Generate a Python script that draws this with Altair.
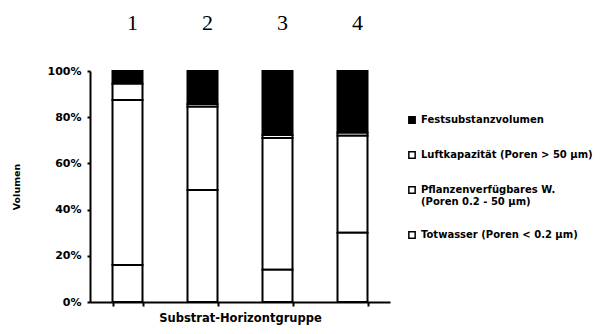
import altair as alt
import pandas as pd

groups = ["1", "2", "3", "4"]
components = [
    "Festsubstanzvolumen",
    "Luftkapazität (Poren > 50 µm)",
    "Pflanzenverfügbares W.\n(Poren 0.2 - 50 µm)",
    "Totwasser (Poren < 0.2 µm)",
]
stack_order = [3, 2, 1, 0]
fest = [5.5, 14.3, 27.7, 26.7]
luft = [7.0, 1.2, 1.3, 1.3]
pflanzen = [71.5, 36.0, 57.0, 42.0]
totwasser = [16.0, 48.5, 14.0, 30.0]
fills = ["black", "white", "white", "white"]

series = [fest, luft, pflanzen, totwasser]
rows = []
for comp, order, vals in zip(components, stack_order, series):
    for g, v in zip(groups, vals):
        rows.append({"Gruppe": g, "Komponente": comp, "Anteil": v, "ord": order})
df = pd.DataFrame(rows)

FONT = "DejaVu Sans"

xscale = alt.Scale(paddingInner=0.6, paddingOuter=0.3)

bars = alt.Chart(df).mark_bar(stroke="black", strokeWidth=2).encode(
    x=alt.X("Gruppe:N", scale=xscale, sort=groups,
            axis=alt.Axis(orient="bottom", labels=False, ticks=True, tickBand="extent",
                          tickSize=4, tickWidth=2, tickColor="black",
                          domainColor="black", domainWidth=2,
                          title="Substrat-Horizontgruppe", titleFont=FONT,
                          titleFontSize=11.5, titleFontWeight="bold", titlePadding=5,
                          titleColor="black")),
    y=alt.Y("Anteil:Q", stack="normalize",
            axis=alt.Axis(format="%", values=[0, 0.2, 0.4, 0.6, 0.8, 1.0], grid=False,
                          labelFont=FONT, labelFontSize=11, labelFontWeight="bold",
                          labelColor="black", tickSize=3, tickWidth=2, tickColor="black",
                          domainColor="black", domainWidth=2, labelPadding=6,
                          title="Volumen", titleFont=FONT, titleFontSize=9.5,
                          titleFontWeight="bold", titlePadding=26, titleColor="black")),
    color=alt.Color("Komponente:N",
                    scale=alt.Scale(domain=components, range=fills),
                    sort=components,
                    legend=alt.Legend(title=None, orient="none", legendX=317, legendY=44,
                                      symbolType="square", symbolSize=40,
                                      symbolStrokeColor="black", symbolStrokeWidth=1.5,
                                      labelFont=FONT, labelFontSize=10,
                                      labelFontWeight="bold", labelColor="black",
                                      labelOffset=4, rowPadding=21, padding=0,
                                      labelExpr="split(datum.label, '\\n')",
                                      labelLimit=300)),
    order=alt.Order("ord:Q", sort="ascending"),
)

top_labels = alt.Chart(df).mark_text(text="", opacity=0).encode(
    x=alt.X("Gruppe:N", scale=xscale, sort=groups,
            axis=alt.Axis(orient="top", domain=False, ticks=False, labelAngle=0,
                          labelFont="Liberation Serif", labelFontSize=22,
                          labelColor="black", labelPadding=37, labelOffset=5,
                          title=None)),
)

chart = alt.layer(bars, top_labels).resolve_axis(x="independent").properties(
    width=300, height=231,
    autosize=alt.AutoSizeParams(type="none"),
    padding={"left": 82, "top": 63, "right": 210, "bottom": 24},
).configure_view(stroke=None)

chart.save("out.html", embed_options={"renderer": "svg", "actions": False})
